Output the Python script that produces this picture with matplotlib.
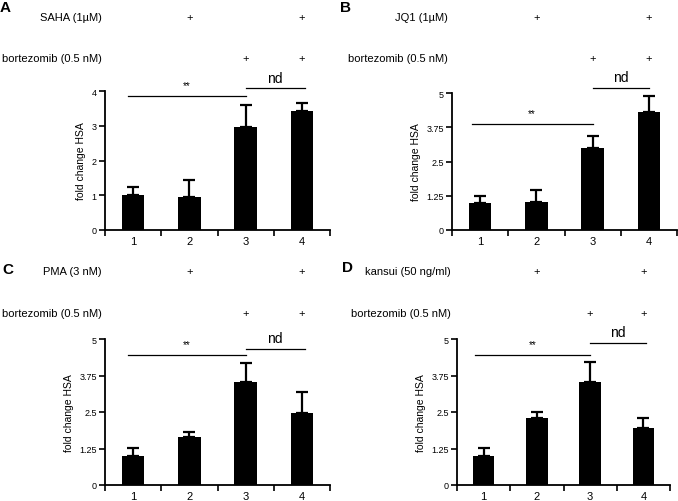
import matplotlib
matplotlib.use("Agg")
import matplotlib.pyplot as plt
import matplotlib.transforms as mtransforms

plt.rcParams['font.family'] = ['Liberation Sans', 'DejaVu Sans']

conditions = ["1", "2", "3", "4"]

# panel A - SAHA
sahaMean = [1.0, 0.96, 2.96, 3.42]
sahaErr = [0.25, 0.49, 0.64, 0.23]
# panel B - JQ1
jq1Mean = [1.0, 1.02, 2.99, 4.3]
jq1Err = [0.24, 0.44, 0.43, 0.58]
# panel C - PMA
pmaMean = [1.0, 1.65, 3.53, 2.47]
pmaErr = [0.27, 0.17, 0.65, 0.72]
# panel D - kansui
kansuiMean = [1.0, 2.3, 3.53, 1.96]
kansuiErr = [0.27, 0.2, 0.67, 0.34]

yticksA = [0, 1, 2, 3, 4]
yticksB = [0, 1.25, 2.5, 3.75, 5]
yticklabelsB = ["0", "1.25", "2.5", "3.75", "5"]

# significance bars: (x0, x1, y) in data units
sigA = [(0.9, 3.0, 3.86), (3.0, 4.05, 4.08)]
sigB = [(0.85, 3.0, 3.87), (3.0, 4.0, 5.2)]
sigC = [(0.9, 3.0, 4.45), (3.0, 4.05, 4.66)]
sigD = [(0.83, 3.0, 4.45), (3.0, 4.05, 4.86)]

treatA = "SAHA (1\u00b5M)"
treatB = "JQ1 (1\u00b5M)"
treatC = "PMA (3 nM)"
treatD = "kansui (50 ng/ml)"
bortez = "bortezomib (0.5 nM)"
plusRow1 = [2, 4]
plusRow2 = [3, 4]

W, H = 678, 502
fig = plt.figure(figsize=(W / 100, H / 100), dpi=100)


def px_ax(left, top, right, bottom):
    return fig.add_axes([left / W, 1 - bottom / H, (right - left) / W, (bottom - top) / H])


def panel(ax, means, errs, ymax, yticks, yticklabels, sig, letter, treat,
          rowy, letterpos, labx):
    x = [1, 2, 3, 4]
    ax.bar(x, means, width=0.4, color="black", zorder=2)
    ax.errorbar(x, means, yerr=[[0] * 4, errs], fmt="none", ecolor="black",
                elinewidth=1.6, capsize=4.5, capthick=1.6, zorder=1)
    ax.set_xlim(0.5, 4.5)
    ax.set_ylim(0, ymax)
    ax.set_yticks(yticks)
    ax.set_yticklabels(yticklabels, fontsize=6.5)
    ax.set_xticks(x)
    ax.set_xticklabels(conditions, fontsize=8)
    ax.set_xticks([0.5, 1.5, 2.5, 3.5, 4.5], minor=True)
    ax.tick_params(axis="x", which="major", length=0, pad=4)
    ax.tick_params(axis="x", which="minor", length=4, width=1.2, direction="out")
    ax.tick_params(axis="y", length=4, width=1.2, direction="out", pad=2)
    for s in ["top", "right"]:
        ax.spines[s].set_visible(False)
    for s in ["left", "bottom"]:
        ax.spines[s].set_linewidth(1.3)
    ax.set_ylabel("fold change HSA", fontsize=7.5, labelpad=4)

    (a0, a1, ay), (n0, n1, ny) = sig
    ax.plot([a0, a1], [ay, ay], color="black", lw=0.9, clip_on=False)
    ax.plot([n0, n1], [ny, ny], color="black", lw=0.9, clip_on=False)
    ax.text((a0 + a1) / 2, ay + ymax * 0.04, "**", ha="center", va="bottom", fontsize=7)
    ax.text((n0 + n1) / 2, ny + ymax * 0.025, "nd", ha="center", va="bottom", fontsize=10)

    tr = mtransforms.blended_transform_factory(ax.transData, fig.transFigure)
    tra = mtransforms.blended_transform_factory(ax.transAxes, fig.transFigure)
    y1 = 1 - rowy[0] / H
    y2 = 1 - rowy[1] / H
    ax.text(labx, y1, treat, transform=tra, ha="right", va="center", fontsize=8)
    ax.text(labx, y2, bortez, transform=tra, ha="right", va="center", fontsize=8)
    for p in plusRow1:
        ax.text(p, y1, "+", transform=tr, ha="center", va="center", fontsize=8)
    for p in plusRow2:
        ax.text(p, y2, "+", transform=tr, ha="center", va="center", fontsize=8)
    fig.text(letterpos[0] / W, 1 - letterpos[1] / H, letter, fontsize=11,
             fontweight="bold", ha="left", va="center")


axA = px_ax(105, 92, 330, 231)
axB = px_ax(452, 94, 677, 231)
axC = px_ax(105, 340, 330, 486)
axD = px_ax(457, 340, 670, 486)

panel(axA, sahaMean, sahaErr, 4, yticksA, [str(v) for v in yticksA], sigA, "A",
      treatA, (18, 59), (0, 8), -0.015)
panel(axB, jq1Mean, jq1Err, 5, yticksB, yticklabelsB, sigB, "B",
      treatB, (18, 59), (340, 8), -0.02)
panel(axC, pmaMean, pmaErr, 5, yticksB, yticklabelsB, sigC, "C",
      treatC, (272, 314), (2, 270), -0.015)
panel(axD, kansuiMean, kansuiErr, 5, yticksB, yticklabelsB, sigD, "D",
      treatD, (272, 314), (342, 268), -0.03)

fig.savefig("out.png", dpi=100)
